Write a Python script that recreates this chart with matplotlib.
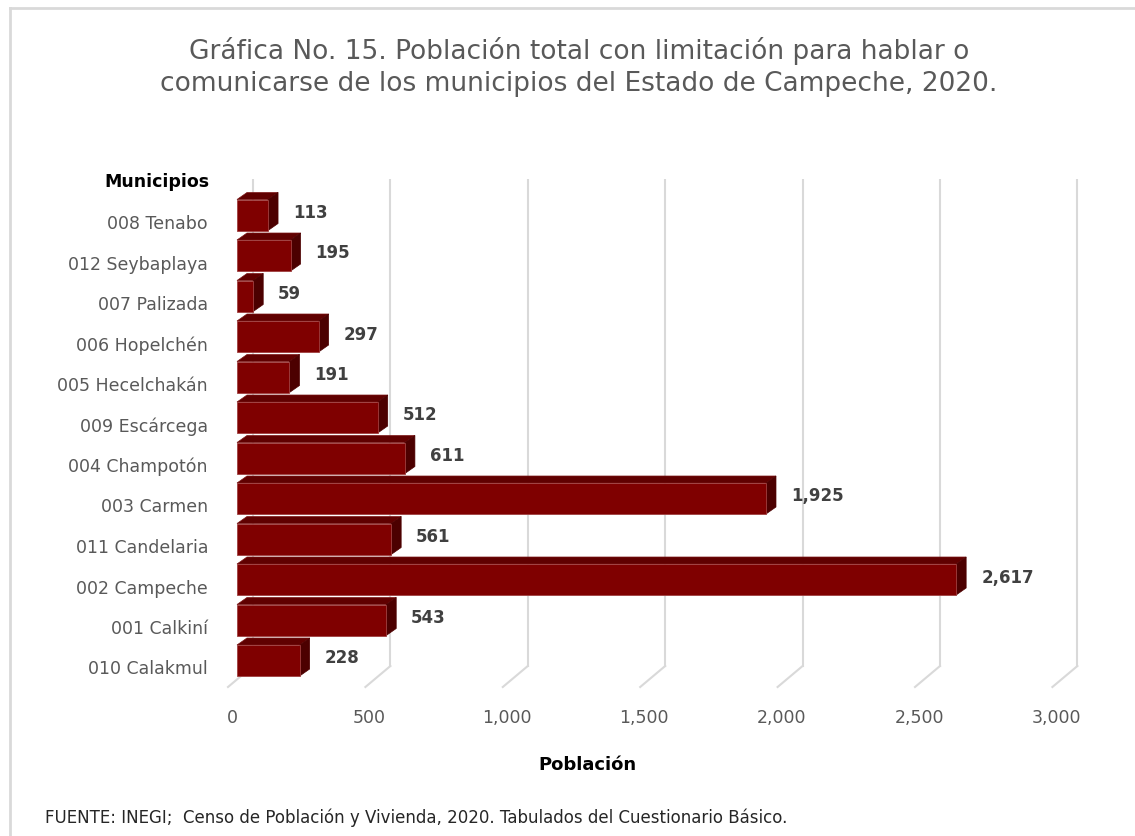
import numpy as np
import matplotlib.pyplot as plt
from matplotlib.patches import Polygon
from matplotlib.lines import Line2D

plt.rcParams['font.family'] = ['DejaVu Sans']

# Datos
municipios = ["008 Tenabo", "012 Seybaplaya", "007 Palizada", "006 Hopelchén",
              "005 Hecelchakán", "009 Escárcega", "004 Champotón", "003 Carmen",
              "011 Candelaria", "002 Campeche", "001 Calkiní", "010 Calakmul"]
poblacion = [113, 195, 59, 297, 191, 512, 611, 1925, 561, 2617, 543, 228]
ticks_x = [0, 500, 1000, 1500, 2000, 2500, 3000]

titulo = ("Gráfica No. 15. Población total con limitación para hablar o\n"
          "comunicarse de los municipios del Estado de Campeche, 2020.")
fuente = "FUENTE: INEGI;  Censo de Población y Vivienda, 2020. Tabulados del Cuestionario Básico."

# Geometria (pixeles)
W, H, DPI = 1135, 837, 100
px_val = 0.2748          # pixeles por unidad de poblacion
px_row = 40.5            # pixeles por fila
x_cero = 237             # pixel del valor 0 (cara frontal)
y_fila0 = 216            # pixel del centro de la primera fila
ax_l, ax_r, ax_t, ax_b = 200, 1100, 180, 688

fig = plt.figure(figsize=(W / DPI, H / DPI), dpi=DPI)
fig.patch.set_facecolor('white')
ax = fig.add_axes([ax_l / W, 1 - ax_b / H, (ax_r - ax_l) / W, (ax_b - ax_t) / H])
ax.set_xlim((ax_l - x_cero) / px_val, (ax_r - x_cero) / px_val)
ax.set_ylim((ax_b - y_fila0) / px_row, (ax_t - y_fila0) / px_row)
ax.axis('off')

# pixeles -> unidades de datos
def dxv(p):
    return p / px_val

def dyr(p):
    return p / px_row

y_fondo = (667 - y_fila0) / px_row
y_frente = (688 - y_fila0) / px_row
y_tope = (ax_t - y_fila0) / px_row

# Cuadricula 3D
for v in ticks_x:
    xb = v + dxv(16)
    xf = v - dxv(9)
    ax.add_line(Line2D([xb, xb], [y_tope, y_fondo], color='#D9D9D9', lw=1.5, zorder=0))
    ax.add_line(Line2D([xb, xf], [y_fondo, y_frente], color='#D9D9D9', lw=1.5, zorder=0,
                       clip_on=False))
    ax.text(xf + dxv(4), y_frente + dyr(30), f"{v:,}", ha='center', va='center',
            fontsize=12.5, color='#595959')

# Barras 3D
h = dyr(15.5)
ddx = dxv(10)
ddy = -dyr(7)
c_frente, c_tope, c_lado = '#7F0000', '#600000', '#4C0000'
for i, v in enumerate(poblacion):
    frente = [(0, i - h), (v, i - h), (v, i + h), (0, i + h)]
    tope = [(0, i - h), (v, i - h), (v + ddx, i - h + ddy), (ddx, i - h + ddy)]
    lado = [(v, i - h), (v + ddx, i - h + ddy), (v + ddx, i + h + ddy), (v, i + h)]
    ax.add_patch(Polygon(tope, closed=True, fc=c_tope, ec='#7A1515', lw=0.5, zorder=2))
    ax.add_patch(Polygon(lado, closed=True, fc=c_lado, ec='#4C0000', lw=0.5, zorder=2))
    ax.add_patch(Polygon(frente, closed=True, fc=c_frente, ec='#A04040', lw=0.6, zorder=3))
    ax.text(v + dxv(25), i - dyr(3), f"{v:,}", ha='left', va='center',
            fontsize=12, fontweight='bold', color='#404040', zorder=4)
    ax.text(dxv(208 - x_cero), i + dyr(8), municipios[i], ha='right', va='center',
            fontsize=12.5, color='#595959')

ax.text(dxv(210 - x_cero), dyr(182 - y_fila0), "Municipios", ha='right', va='center',
        fontsize=12.5, fontweight='bold', color='black')

# Textos de la figura
fig.text(579 / W, 1 - 67 / H, titulo, ha='center', va='center', fontsize=19,
         color='#595959', linespacing=1.3)
fig.text(587 / W, 1 - 765 / H, "Población", ha='center', va='center',
         fontsize=13, fontweight='bold', color='black')
fig.text(45 / W, 1 - 818 / H, fuente, ha='left', va='center', fontsize=12,
         color='#262626')

# Borde
fig.add_artist(Line2D([10 / W, 10 / W], [0, 1 - 9 / H], transform=fig.transFigure,
                      color='#D9D9D9', lw=2))
fig.add_artist(Line2D([10 / W, 1], [1 - 9 / H, 1 - 9 / H], transform=fig.transFigure,
                      color='#D9D9D9', lw=2))

fig.savefig('out.png', dpi=DPI, facecolor='white')
